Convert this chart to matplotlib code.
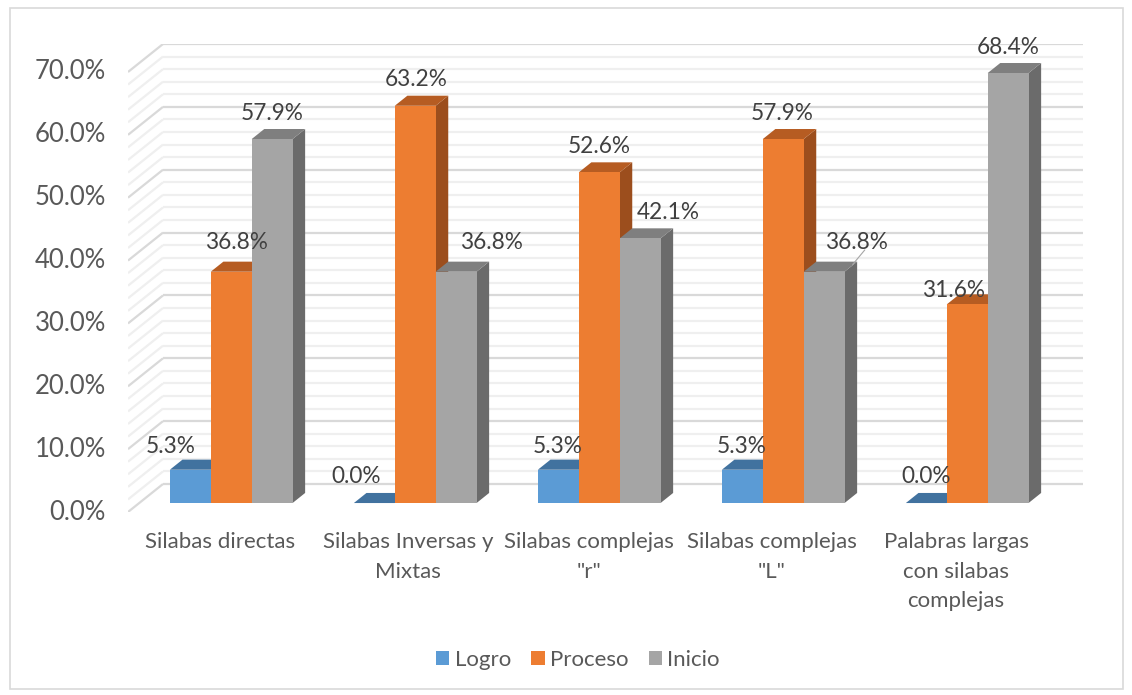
import matplotlib
matplotlib.use("Agg")
import matplotlib.pyplot as plt
from matplotlib.patches import Polygon, Rectangle, Patch

plt.rcParams['font.family'] = ['Lato', 'DejaVu Sans']

# ---------------- data ----------------
categories = ["Silabas directas", "Silabas Inversas y\nMixtas", "Silabas complejas\n\"r\"",
              "Silabas complejas\n\"L\"", "Palabras largas\ncon silabas\ncomplejas"]
series_names = ["Logro", "Proceso", "Inicio"]
logro = [5.3, 0.0, 5.3, 5.3, 0.0]
proceso = [36.8, 63.2, 52.6, 57.9, 31.6]
inicio = [57.9, 36.8, 42.1, 36.8, 68.4]
series_values = [logro, proceso, inicio]
y_ticks = [0, 10, 20, 30, 40, 50, 60, 70]

# ---------------- style ----------------
front_cols = ["#5B9BD5", "#ED7D31", "#A5A5A5"]
top_cols = ["#41729F", "#B65C22", "#7F7F7F"]
side_cols = ["#3E6E9A", "#9C4E1D", "#6B6B6B"]

W, H = 1132, 695
fig = plt.figure(figsize=(W / 100, H / 100), dpi=100)

# axes in pixel layout
ax_left, ax_right, ax_bottom, ax_top = 128, 1083, 512, 44
ax = fig.add_axes([ax_left / W, 1 - ax_bottom / H, (ax_right - ax_left) / W, (ax_bottom - ax_top) / H])
n = len(categories)
DX = 35 / 184.0          # depth offset in category units
YMAX = 70
px_per_unit_y = (ax_bottom - ax_top) / (YMAX + 4.45)
DY = 28 / px_per_unit_y  # depth offset in percent units
ax.set_xlim(0, n + DX)
ax.set_ylim(0, YMAX + DY)
ax.axis('off')

# back wall + side wall gridlines
for v in range(0, YMAX + 1, 2):
    major = (v % 10 == 0)
    col = "#D9D9D9" if major else "#EFEFEF"
    ax.plot([DX, n + DX], [v + DY, v + DY], color=col, lw=1.6, zorder=1, solid_capstyle='butt')
    ax.plot([0, DX], [v, v + DY], color=col, lw=1.6, zorder=1, solid_capstyle='butt')

# y tick labels
for t in y_ticks:
    ax.annotate(f"{t:.1f}%", xy=(0, t), xytext=(-22 * 0.72, 0), textcoords='offset points',
                ha='right', va='center', fontsize=18.5, color="#595959", annotation_clip=False)

# bars
w = 1 / 4.5
gap_half = 0.75 * w
d0, d1 = 0.32, 0.68
z = 2
label_nudge = {  # (dx, dy) in pixels relative to default label position
    (0, 0): (-20, 3), (0, 1): (5, -3), (0, 2): (0, 0),
    (1, 0): (-18, 0), (1, 1): (1, 0), (1, 2): (35, -3),
    (2, 0): (-1, 3), (2, 1): (0, 0), (2, 2): (28, 0),
    (3, 0): (-1, 3), (3, 1): (-1, 0), (3, 2): (32, -3),
    (4, 0): (0, 0), (4, 1): (-14, 12), (4, 2): (0, 0),
}
for i in range(n):
    for j in range(3):
        v = series_values[j][i]
        x0 = i + gap_half + j * w
        fx0, fx1 = x0 + d0 * DX, x0 + w + d0 * DX
        bx0, bx1 = x0 + d1 * DX, x0 + w + d1 * DX
        yb0, yb1 = d0 * DY, d1 * DY
        # side face
        ax.add_patch(Polygon([(fx1, yb0), (bx1, yb1), (bx1, v + yb1), (fx1, v + yb0)],
                             closed=True, facecolor=side_cols[j], edgecolor='none', zorder=z))
        # top face
        ax.add_patch(Polygon([(fx0, v + yb0), (fx1, v + yb0), (bx1, v + yb1), (bx0, v + yb1)],
                             closed=True, facecolor=top_cols[j], edgecolor='none', zorder=z + 0.1))
        # front face
        if v > 0:
            ax.add_patch(Rectangle((fx0, yb0), w, v, facecolor=front_cols[j], edgecolor='none',
                                   zorder=z + 0.2))
        z += 1
        ndx, ndy = label_nudge.get((i, j), (0, 0))
        ax.annotate(f"{v:.1f}%", xy=((fx0 + fx1) / 2, v + yb1),
                    xytext=(ndx * 0.72, (16 - ndy) * 0.72), textcoords='offset points',
                    ha='center', va='center', fontsize=16.3, color="#404040", zorder=100,
                    annotation_clip=False)

# leader line for the 4th group "Inicio" label
i, j = 3, 2
v = series_values[j][i]
x0 = i + gap_half + j * w
ax.annotate("", xy=(x0 + w + 0.5 * DX, v + 0.5 * DY), xytext=(x0 + w + 0.95 * DX, v + 0.95 * DY + 1.0),
            arrowprops=dict(arrowstyle='-', color='#A6A6A6', lw=0.8), zorder=100, annotation_clip=False)

# category labels
cat_nudge = [0, 4, 1, 0, 0]
for i, c in enumerate(categories):
    ax.annotate(c, xy=(i + 0.5, 0), xytext=(cat_nudge[i] * 0.72, -20 * 0.72), textcoords='offset points',
                ha='center', va='top', fontsize=16.0, color="#595959", linespacing=1.6,
                annotation_clip=False)

# legend
handles = [Patch(facecolor=front_cols[k], edgecolor='none', label=series_names[k]) for k in range(3)]
fig.legend(handles=handles, loc='center', bbox_to_anchor=(578 / W, 1 - 660 / H), ncol=3,
           frameon=False, fontsize=16, labelcolor="#595959", handlelength=0.6, handleheight=0.6,
           handletextpad=0.25, columnspacing=0.9)

# chart border
fig.add_artist(Rectangle((10 / W, 1 - 689 / H), 1113 / W, 681 / H, transform=fig.transFigure,
                         facecolor='none', edgecolor='#D9D9D9', lw=1.2))

fig.savefig("out.png", dpi=100)
